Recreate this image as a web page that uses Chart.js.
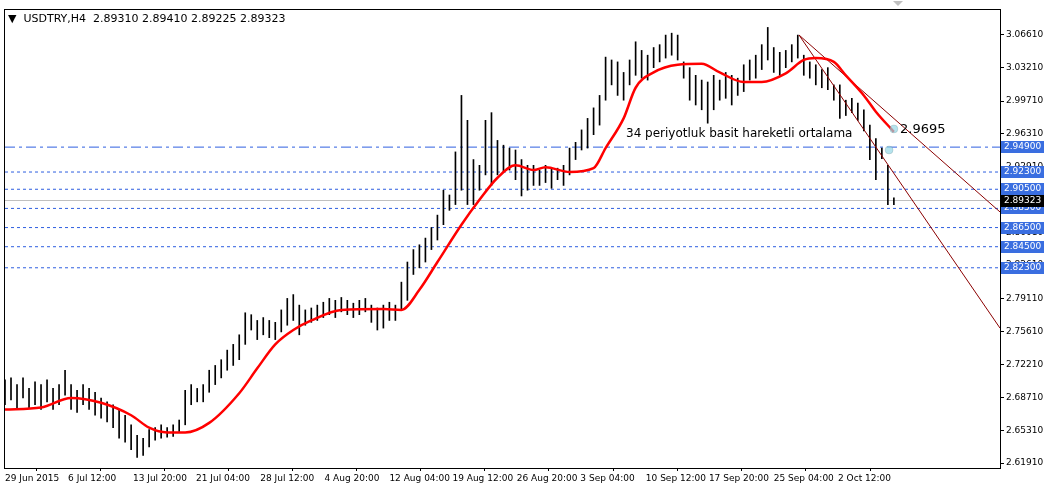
<!DOCTYPE html>
<html><head><meta charset="utf-8">
<script src="https://cdn.jsdelivr.net/npm/chart.js@4"></script>
<style>html,body{margin:0;padding:0;background:#fff}#w{width:1044px;height:487px}</style>
</head><body><div id="w"><canvas id="c"></canvas></div>
<script>
const barHighs=[2.706,2.708,2.701,2.708,2.697,2.704,2.701,2.706,2.697,2.701,2.716,2.701,2.695,2.701,2.697,2.693,2.687,2.683,2.680,2.675,2.669,2.659,2.648,2.645,2.654,2.656,2.659,2.656,2.659,2.664,
2.695,2.701,2.697,2.701,2.716,2.721,2.727,2.737,2.743,2.753,2.776,2.774,2.768,2.771,2.768,2.766,2.779,2.791,2.795,2.784,2.779,2.781,2.784,2.787,2.791,2.789,2.792,2.789,2.786,2.789,
2.791,2.784,2.781,2.784,2.787,2.784,2.808,2.829,2.842,2.847,2.854,2.865,2.878,2.904,2.899,2.944,3.003,2.977,2.936,2.930,2.977,2.985,2.956,2.951,2.948,2.946,2.936,2.930,2.930,2.925,
2.930,2.927,2.927,2.930,2.948,2.954,2.967,2.979,2.990,3.003,3.043,3.040,3.038,3.027,3.040,3.059,3.050,3.045,3.053,3.056,3.066,3.068,3.066,3.038,3.032,3.024,3.019,3.017,3.024,3.019,
3.027,3.024,3.021,3.035,3.040,3.045,3.056,3.074,3.053,3.048,3.050,3.056,3.066,3.045,3.038,3.035,3.030,3.032,3.014,3.014,2.998,3.000,2.995,2.988,2.972,2.958,2.948,2.930,2.896];
const barLows=[2.680,2.685,2.677,2.687,2.677,2.680,2.675,2.683,2.675,2.680,2.690,2.675,2.672,2.680,2.675,2.669,2.666,2.662,2.656,2.645,2.641,2.633,2.625,2.627,2.636,2.643,2.645,2.646,2.647,2.652,
2.659,2.680,2.683,2.683,2.693,2.701,2.708,2.716,2.721,2.727,2.743,2.758,2.748,2.753,2.750,2.748,2.756,2.763,2.768,2.753,2.763,2.766,2.768,2.771,2.774,2.771,2.777,2.774,2.771,2.774,
2.777,2.766,2.758,2.760,2.768,2.768,2.779,2.789,2.816,2.823,2.829,2.842,2.852,2.868,2.883,2.889,2.904,2.889,2.889,2.904,2.920,2.909,2.920,2.923,2.925,2.915,2.898,2.904,2.909,2.909,
2.912,2.906,2.915,2.909,2.920,2.936,2.946,2.948,2.962,2.972,2.998,3.014,3.003,2.998,3.014,3.024,3.021,3.019,3.032,3.038,3.042,3.045,3.040,3.021,2.998,2.993,2.988,2.974,2.988,2.998,
3.000,2.993,3.003,3.007,3.019,3.021,3.030,3.040,3.027,3.024,3.032,3.038,3.042,3.024,3.021,3.014,3.011,3.009,2.998,2.979,2.982,2.985,2.977,2.966,2.936,2.915,2.937,2.889,2.889];
const maIdx=[0,6,11,16,21,24,27,30,34,39,42,45,48,51,56,63,66,69,72,76,79,82,85,88,90,94,98,100,103,105,108,112,116,119,123,126,130,133,135,138,140,143,145,148];
const maVal=[2.675,2.677,2.687,2.682,2.669,2.656,2.651,2.651,2.661,2.692,2.718,2.743,2.758,2.768,2.779,2.780,2.779,2.800,2.829,2.868,2.894,2.917,2.930,2.925,2.928,2.923,2.927,2.948,2.979,3.011,3.027,3.035,3.036,3.027,3.017,3.017,3.026,3.040,3.042,3.038,3.024,3.003,2.986,2.965];
const trendA=[[132.2,3.0661],[165.67,2.8813]];
const trendB=[[132.2,3.0661],[165.67,2.760]];
const levels=[2.949,2.923,2.905,2.885,2.865,2.845,2.823];
const currentPrice=2.89323;
const yTicks=[3.0661,3.0321,2.9971,2.9631,2.9291,2.8951,2.8601,2.8261,2.7911,2.7561,2.7221,2.6871,2.6531,2.6191];
const xTickPos=[0,10.5,21.3,31.8,42.5,53.2,64,74.5,85.2,95.8,106.7,117.2,128,138.7];
const xTickLabels=["29 Jun 2015","6 Jul 12:00","13 Jul 20:00","21 Jul 04:00","28 Jul 12:00","4 Aug 20:00","12 Aug 04:00","19 Aug 12:00","26 Aug 20:00","3 Sep 04:00","10 Sep 12:00","17 Sep 20:00","25 Sep 04:00","2 Oct 12:00"];
const XMAX=165.67;

const bars=barHighs.map((h,i)=>({x:i,y:[barLows[i],h]}));
const ma=maIdx.map((x,i)=>({x,y:maVal[i]}));
const lvlSets=levels.map((v,i)=>({type:'line',data:[{x:0,y:v},{x:XMAX,y:v}],borderColor:'#2f5fe0',borderWidth:1,
  borderDash:i===0?[10,4,3,4]:[3,3],pointRadius:0,order:5}));

const F='"DejaVu Sans", sans-serif';
const deco={id:'deco',afterDraw(c){
  const g=c.ctx,a=c.chartArea,ys=c.scales.y;
  g.save();
  g.strokeStyle='#000';g.lineWidth=1;g.strokeRect(a.left-0.5,a.top-0.5,a.right-a.left+1,a.bottom-a.top+1);
  g.font='9px '+F;g.textBaseline='middle';
  levels.forEach(v=>{const p=Math.round(ys.getPixelForValue(v));
    g.fillStyle='#3a6ee0';g.fillRect(a.right+1,p-6,43,12);g.fillStyle='#fff';g.textAlign='left';g.fillText(v.toFixed(5),a.right+4,p);});
  const cp=Math.round(ys.getPixelForValue(currentPrice));
  g.fillStyle='#000';g.fillRect(a.right+1,cp-6,43,12);g.fillStyle='#fff';g.fillText(currentPrice.toFixed(5),a.right+4,cp);
  g.fillStyle='#000';g.font='11px '+F;g.textAlign='left';
  g.fillText('\u25BC  USDTRY,H4  2.89310 2.89410 2.89225 2.89323',8,a.top+9);
  g.font='12px '+F;g.fillText('34 periyotluk basit hareketli ortalama',626,a.top+124);
  g.font='13px '+F;g.fillText('2.9695',900,a.top+120);
  g.fillStyle='#c0c0c0';g.beginPath();g.moveTo(893,a.top-9);g.lineTo(903,a.top-9);g.lineTo(898,a.top-4);g.fill();
  g.restore();
}};

new Chart(document.getElementById('c'),{
  data:{datasets:[
    ...lvlSets,
    {type:'line',data:[{x:0,y:currentPrice},{x:XMAX,y:currentPrice}],borderColor:'#c0c0c0',borderWidth:1,pointRadius:0,order:6},
    {type:'bar',data:bars,backgroundColor:'#000',barThickness:1,order:3},
    {type:'line',data:ma,borderColor:'#ff0000',borderWidth:2.5,pointRadius:0,tension:0.4,cubicInterpolationMode:'monotone',order:1},
    {type:'line',data:trendA.map(p=>({x:p[0],y:p[1]})),borderColor:'#8b0000',borderWidth:1,pointRadius:0,order:2},
    {type:'line',data:trendB.map(p=>({x:p[0],y:p[1]})),borderColor:'#8b0000',borderWidth:1,pointRadius:0,order:2},
    {type:'scatter',data:[{x:148.0,y:2.968},{x:147.2,y:2.946}],backgroundColor:'rgba(150,215,230,0.7)',pointRadius:4,order:0}
  ]},
  options:{responsive:true,maintainAspectRatio:false,animation:false,
    layout:{padding:{left:5,top:10,right:0,bottom:0}},
    plugins:{legend:{display:false},tooltip:{enabled:false}},
    scales:{
      x:{type:'linear',min:0,max:XMAX,offset:false,
        grid:{drawOnChartArea:false,tickLength:3,color:'#000'},border:{display:false},
        afterBuildTicks(s){s.ticks=xTickPos.map(v=>({value:v}));},
        afterFit(s){s.height=19;},
        ticks:{autoSkip:false,maxRotation:0,align:'start',padding:2,color:'#000',font:{family:'"DejaVu Sans"',size:9},
          callback:(v,i)=>xTickLabels[i]}},
      y:{type:'linear',position:'right',min:2.6139,max:3.0922,
        grid:{drawOnChartArea:false,tickLength:4,color:'#000'},border:{display:false},
        afterBuildTicks(s){s.ticks=yTicks.map(v=>({value:v}));},
        afterFit(s){s.width=44;},
        ticks:{autoSkip:false,padding:2,color:'#000',font:{family:'"DejaVu Sans"',size:9},callback:v=>v.toFixed(5)}}
    }},
  plugins:[deco]
});
</script></body></html>
